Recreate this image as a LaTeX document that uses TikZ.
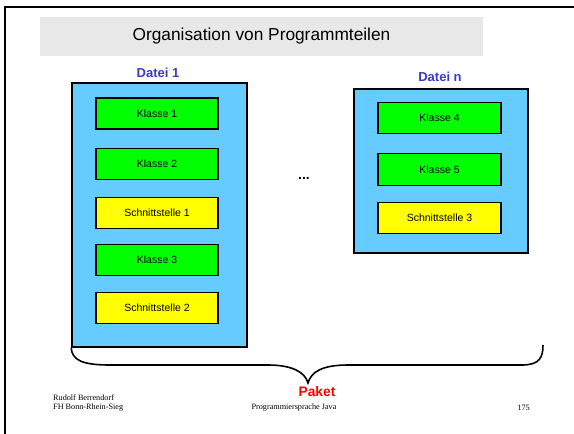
\documentclass[tikz,border=0pt]{standalone}
\usepackage{fontspec}
\setmainfont{Liberation Sans}
\newfontfamily\timesf{Liberation Serif}
\definecolor{titlegray}{HTML}{E8E8E8}
\definecolor{fileblue}{HTML}{66CCFF}
\definecolor{labelblue}{HTML}{3A3ACC}
\definecolor{clsgreen}{HTML}{00FF00}
\definecolor{ifyellow}{HTML}{FFFF00}
\tikzset{
  filebox/.style={draw=black, line width=1.6pt, fill=fileblue, inner sep=0pt},
  clsbox/.style={draw=black, line width=1.6pt, fill=clsgreen, minimum width=122pt, minimum height=31pt, inner sep=0pt, font=\fontsize{10.5}{12}\selectfont},
  ifbox/.style={clsbox, fill=ifyellow},
  filelabel/.style={text=labelblue, font=\bfseries\fontsize{13}{15}\selectfont},
  footer/.style={font=\timesf\fontsize{8.2}{10}\selectfont, inner sep=0pt},
}
\begin{document}
\begin{tikzpicture}[x=1pt,y=-1pt]
\useasboundingbox (0,0) rectangle (574,434);
% frame
\coordinate (fr1) at (574,6.5);
\coordinate (fr0) at (5,6.5);
\coordinate (fr2) at (5,434);
\draw[line width=2pt] (fr1) -- (fr0) -- (fr2);
% title
\node[fill=titlegray, minimum width=443pt, minimum height=39pt, inner sep=0pt, font=\fontsize{17.3}{20}\selectfont] (title) at (261.5,36.5) {Organisation von Programmteilen};
% Datei 1
\node[filelabel] (l1) at (158,73) {Datei 1};
\node[filebox, minimum width=175pt, minimum height=264pt] (d1) at (159.5,215) {};
\node[clsbox] (k1) at (157,113.5) {Klasse 1};
\node[clsbox] (k2) at (157,164) {Klasse 2};
\node[ifbox] (s1) at (157,213) {Schnittstelle 1};
\node[clsbox] (k3) at (157,260) {Klasse 3};
\node[ifbox] (s2) at (157,308) {Schnittstelle 2};
% dots
\node[font=\bfseries\fontsize{14}{16}\selectfont, anchor=base, inner sep=0pt] (dots) at (304,179) {...};
% Datei n
\node[filelabel] (ln) at (440,77) {Datei n};
\node[filebox, minimum width=174pt, minimum height=164pt] (dn) at (441,171) {};
\node[clsbox, minimum width=123pt] (k4) at (439.5,118) {Klasse 4};
\node[clsbox, minimum width=123pt, minimum height=32pt] (k5) at (439.5,169.5) {Klasse 5};
\node[ifbox, minimum width=123pt] (s3) at (439.5,218) {Schnittstelle 3};
% brace
\coordinate (bR) at (543,345);
\coordinate (bT) at (308,383);
\draw[line width=1.6pt] (d1.south west) .. controls (72,360) and (82,365) .. (110,365)
  -- (268,365) .. controls (292,365) and (305,372) .. (bT)
  .. controls (311,372) and (322,365) .. (348,365)
  -- (522,365) .. controls (540,365) and (543,357) .. (bR);
\node[text=red, font=\bfseries\fontsize{13.8}{15}\selectfont] (paket) at (317,392) {Paket};
% footer
\node[footer, anchor=west] (f1) at (53,398) {Rudolf Berrendorf};
\node[footer, anchor=west] (f2) at (53,408) {FH Bonn-Rhein-Sieg};
\node[footer] (f3) at (294,408) {Programmiersprache Java};
\node[footer, anchor=east] (f4) at (530,408) {175};
\end{tikzpicture}
\end{document}
